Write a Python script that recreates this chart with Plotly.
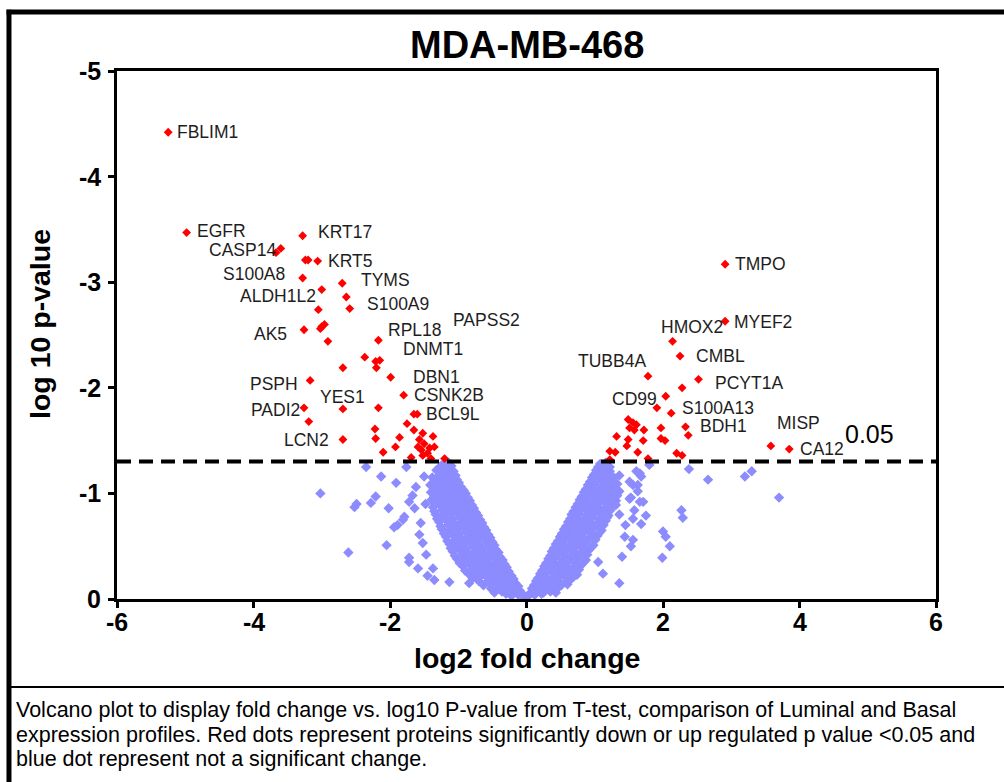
import numpy as np
import plotly.graph_objects as go

# ---- significant proteins (p < 0.05), down-regulated side ----
down_names = ["FBLIM1", "EGFR", "", "CASP14", "KRT17", "", "", "KRT5", "S100A8", "TYMS",
              "ALDH1L2", "", "S100A9", "", "AK5", "", "", "", "", "RPL18", "", "", "DNMT1", "",
              "", "DBN1", "PSPH", "CSNK2B", "", "BCL9L", "PADI2", "YES1", "", "", "", "", "",
              "", "LCN2", "", "", "", "",
              "", "", "", "", "", "", "", "", "", "", "", ""]
down_x = [-5.25, -4.98, -3.67, -3.60, -3.28, -3.24, -3.20, -3.06, -3.28, -2.70,
          -3.00, -2.64, -2.59, -3.05, -3.26, -3.02, -2.96, -3.00, -2.91, -2.17, -2.37, -2.21, -2.15, -2.20,
          -2.69, -1.99, -3.17, -1.80, -1.65, -1.60, -3.26, -2.69, -2.17, -3.19, -1.75, -1.65, -2.22,
          -2.21, -2.69, -1.86, -1.92, -2.10, -1.69,
          -1.52, -1.37, -1.57, -1.50, -1.59, -1.54, -1.42, -1.35, -1.45, -1.40, -1.52, -1.20]
down_y = [-4.42, -3.47, -3.28, -3.32, -3.44, -3.21, -3.21, -3.20, -3.04, -2.99,
          -2.93, -2.86, -2.75, -2.74, -2.55, -2.56, -2.60, -2.58, -2.44, -2.45, -2.29, -2.25, -2.26, -2.19,
          -2.19, -2.10, -2.07, -1.93, -1.75, -1.75, -1.81, -1.80, -1.81, -1.68, -1.66, -1.60, -1.61,
          -1.52, -1.51, -1.53, -1.44, -1.39, -1.34,
          -1.57, -1.54, -1.51, -1.47, -1.44, -1.41, -1.43, -1.44, -1.38, -1.33, -1.36, -1.33]

# ---- significant proteins (p < 0.05), up-regulated side ----
up_names = ["TMPO", "MYEF2", "HMOX2", "CMBL", "TUBB4A", "PCYT1A", "", "", "CD99", "S100A13",
            "BDH1", "", "", "", "", "MISP", "CA12",
            "", "", "", "", "", "", "", "", "", "", "", "", "", "", "", "", ""]
up_x = [2.91, 2.91, 2.14, 2.25, 1.78, 2.52, 2.28, 2.04, 1.91, 2.12,
        2.33, 2.37, 1.97, 1.97, 2.03, 3.58, 3.85,
        1.49, 1.56, 1.61, 1.51, 1.58, 1.72, 1.71, 1.49, 1.32, 1.47, 1.22, 1.30, 1.63, 1.78, 1.22, 2.20, 2.28]
up_y = [-3.17, -2.63, -2.44, -2.30, -2.11, -2.08, -2.00, -1.92, -1.81, -1.76,
        -1.63, -1.55, -1.62, -1.52, -1.50, -1.45, -1.42,
        -1.70, -1.67, -1.65, -1.62, -1.60, -1.60, -1.50, -1.51, -1.54, -1.45, -1.40, -1.39, -1.39, -1.33, -1.32, -1.38, -1.36]

# ---- non-significant proteins: left arm of the volcano ----
ns_left_x = [-0.22, -0.12, -0.04, -0.30,
             -0.52, -0.41, -0.30, -0.19, -0.10,
             -0.70, -0.58, -0.47, -0.36, -0.26, -0.16,
             -0.85, -0.74, -0.62, -0.52, -0.41, -0.31, -0.22,
             -0.93, -0.82, -0.71, -0.60, -0.49, -0.38, -0.29,
             -1.02, -0.90, -0.79, -0.68, -0.57, -0.46, -0.35,
             -1.08, -0.97, -0.86, -0.75, -0.64, -0.52, -0.41,
             -1.13, -1.02, -0.91, -0.80, -0.69, -0.58, -0.47,
             -1.18, -1.07, -0.96, -0.85, -0.74, -0.63, -0.53,
             -1.24, -1.12, -1.01, -0.90, -0.79, -0.69, -0.59,
             -1.28, -1.17, -1.06, -0.95, -0.85, -0.75, -0.65,
             -1.33, -1.22, -1.11, -1.00, -0.90, -0.80, -0.71,
             -1.37, -1.26, -1.15, -1.05, -0.96, -0.86, -0.77,
             -1.39, -1.29, -1.19, -1.10, -1.01, -0.91, -0.83,
             -1.40, -1.30, -1.21, -1.12, -1.04, -0.96, -0.89,
             -1.41, -1.32, -1.23, -1.14, -1.05, -0.96,
             -1.38, -1.29, -1.20, -1.11, -1.02,
             -1.32, -1.23, -1.15, -1.07,
             -1.22, -1.14,
             -0.47, -0.36, -0.25, -0.15, -0.06,
             -0.63, -0.52, -0.41, -0.31, -0.21, -0.12,
             -0.79, -0.68, -0.57, -0.46, -0.36, -0.27, -0.19,
             -0.90, -0.79, -0.68, -0.57, -0.46, -0.36, -0.26,
             -0.98, -0.87, -0.76, -0.65, -0.54, -0.43, -0.32,
             -1.05, -0.94, -0.83, -0.72, -0.61, -0.50, -0.39,
             -1.11, -1.00, -0.89, -0.78, -0.67, -0.56, -0.45,
             -1.16, -1.05, -0.94, -0.83, -0.72, -0.61, -0.50,
             -1.21, -1.10, -0.99, -0.88, -0.77, -0.66, -0.56,
             -1.26, -1.15, -1.04, -0.93, -0.83, -0.73, -0.62,
             -1.31, -1.20, -1.09, -0.98, -0.88, -0.78, -0.68,
             -1.35, -1.24, -1.14, -1.03, -0.93, -0.83, -0.74,
             -1.34, -1.24, -1.15, -1.06, -0.96, -0.87, -0.80,
             -1.35, -1.26, -1.17, -1.08, -1.00, -0.93, -0.86,
             -1.36, -1.27, -1.18, -1.09, -1.00, -0.92,
             -1.35, -1.25, -1.16, -1.07, -0.99,
             -1.27, -1.18, -1.10, -1.04,
             -1.27, -1.18, -1.10]
ns_left_y = [-0.03, -0.04, -0.02, -0.05,
             -0.10, -0.11, -0.09, -0.10, -0.08,
             -0.17, -0.16, -0.18, -0.17, -0.16, -0.15,
             -0.24, -0.23, -0.25, -0.24, -0.23, -0.25, -0.22,
             -0.31, -0.32, -0.30, -0.31, -0.32, -0.30, -0.30,
             -0.38, -0.37, -0.39, -0.38, -0.37, -0.39, -0.37,
             -0.45, -0.46, -0.44, -0.45, -0.46, -0.44, -0.44,
             -0.52, -0.51, -0.53, -0.52, -0.51, -0.53, -0.51,
             -0.59, -0.60, -0.58, -0.59, -0.60, -0.58, -0.58,
             -0.66, -0.65, -0.67, -0.66, -0.65, -0.67, -0.65,
             -0.73, -0.74, -0.72, -0.73, -0.74, -0.72, -0.72,
             -0.80, -0.79, -0.81, -0.80, -0.79, -0.81, -0.79,
             -0.87, -0.88, -0.86, -0.87, -0.88, -0.86, -0.86,
             -0.94, -0.93, -0.95, -0.94, -0.93, -0.95, -0.93,
             -1.01, -1.02, -1.00, -1.01, -1.02, -1.00, -1.00,
             -1.08, -1.07, -1.09, -1.08, -1.07, -1.06,
             -1.15, -1.16, -1.14, -1.15, -1.13,
             -1.22, -1.21, -1.23, -1.21,
             -1.28, -1.29,
             -0.06, -0.07, -0.06, -0.07, -0.05,
             -0.13, -0.14, -0.13, -0.14, -0.13, -0.12,
             -0.20, -0.21, -0.20, -0.21, -0.20, -0.21, -0.19,
             -0.27, -0.28, -0.27, -0.28, -0.27, -0.28, -0.26,
             -0.34, -0.35, -0.34, -0.35, -0.34, -0.35, -0.33,
             -0.41, -0.42, -0.41, -0.42, -0.41, -0.42, -0.40,
             -0.48, -0.49, -0.48, -0.49, -0.48, -0.49, -0.47,
             -0.55, -0.56, -0.55, -0.56, -0.55, -0.56, -0.54,
             -0.62, -0.63, -0.62, -0.63, -0.62, -0.63, -0.61,
             -0.69, -0.70, -0.69, -0.70, -0.69, -0.70, -0.68,
             -0.76, -0.77, -0.76, -0.77, -0.76, -0.77, -0.75,
             -0.83, -0.84, -0.83, -0.84, -0.83, -0.84, -0.82,
             -0.90, -0.91, -0.90, -0.91, -0.90, -0.91, -0.89,
             -0.97, -0.98, -0.97, -0.98, -0.97, -0.98, -0.96,
             -1.04, -1.05, -1.04, -1.05, -1.04, -1.03,
             -1.11, -1.12, -1.11, -1.12, -1.10,
             -1.18, -1.19, -1.18, -1.17,
             -1.25, -1.25, -1.26]

# ---- non-significant proteins: right arm of the volcano ----
ns_right_x = [0.03, 0.12, 0.22,
              0.08, 0.18, 0.28, 0.38, 0.47,
              0.14, 0.24, 0.35, 0.46, 0.57, 0.64,
              0.20, 0.30, 0.41, 0.52, 0.63, 0.74,
              0.26, 0.36, 0.47, 0.58, 0.69, 0.80,
              0.32, 0.42, 0.53, 0.64, 0.75, 0.87,
              0.37, 0.47, 0.58, 0.69, 0.80, 0.91,
              0.43, 0.53, 0.64, 0.75, 0.86, 0.98,
              0.49, 0.59, 0.70, 0.81, 0.92, 1.04,
              0.55, 0.65, 0.76, 0.87, 0.98, 1.10,
              0.61, 0.71, 0.82, 0.93, 1.04, 1.16,
              0.66, 0.76, 0.87, 0.98, 1.09, 1.20,
              0.72, 0.82, 0.93, 1.04, 1.15, 1.26,
              0.78, 0.88, 0.99, 1.10, 1.21, 1.31,
              0.84, 0.94, 1.05, 1.16, 1.27, 1.36,
              0.90, 1.00, 1.11, 1.22, 1.33,
              0.96, 1.06, 1.17, 1.28,
              1.02, 1.12, 1.22,
              1.08, 1.16,
              0.06, 0.15, 0.25, 0.35, 0.43,
              0.11, 0.21, 0.31, 0.41, 0.51, 0.60,
              0.17, 0.27, 0.38, 0.49, 0.60, 0.69,
              0.23, 0.33, 0.44, 0.55, 0.66, 0.77,
              0.29, 0.39, 0.50, 0.61, 0.72, 0.84,
              0.35, 0.45, 0.56, 0.67, 0.78, 0.89,
              0.40, 0.50, 0.61, 0.72, 0.83, 0.95,
              0.46, 0.56, 0.67, 0.78, 0.89, 1.01,
              0.52, 0.62, 0.73, 0.84, 0.95, 1.07,
              0.58, 0.68, 0.79, 0.90, 1.01, 1.13,
              0.64, 0.74, 0.85, 0.96, 1.07, 1.18,
              0.69, 0.79, 0.90, 1.01, 1.12, 1.23,
              0.75, 0.85, 0.96, 1.07, 1.18, 1.29,
              0.81, 0.91, 1.02, 1.13, 1.24, 1.33,
              0.87, 0.97, 1.08, 1.19, 1.30,
              0.93, 1.03, 1.14, 1.25,
              0.99, 1.09, 1.20,
              1.05, 1.14, 1.22]
ns_right_y = [-0.03, -0.04, -0.05,
              -0.10, -0.11, -0.09, -0.10, -0.11,
              -0.17, -0.16, -0.18, -0.17, -0.16, -0.18,
              -0.24, -0.25, -0.23, -0.24, -0.25, -0.23,
              -0.31, -0.30, -0.32, -0.31, -0.30, -0.32,
              -0.38, -0.39, -0.37, -0.38, -0.39, -0.37,
              -0.45, -0.44, -0.46, -0.45, -0.44, -0.46,
              -0.52, -0.53, -0.51, -0.52, -0.53, -0.51,
              -0.59, -0.58, -0.60, -0.59, -0.58, -0.60,
              -0.66, -0.67, -0.65, -0.66, -0.67, -0.65,
              -0.73, -0.72, -0.74, -0.73, -0.72, -0.74,
              -0.80, -0.81, -0.79, -0.80, -0.81, -0.79,
              -0.87, -0.86, -0.88, -0.87, -0.86, -0.88,
              -0.94, -0.95, -0.93, -0.94, -0.95, -0.93,
              -1.01, -1.00, -1.02, -1.01, -1.00, -1.02,
              -1.08, -1.09, -1.07, -1.08, -1.09,
              -1.15, -1.14, -1.16, -1.15,
              -1.22, -1.23, -1.21,
              -1.28, -1.29,
              -0.06, -0.07, -0.06, -0.07, -0.06,
              -0.13, -0.14, -0.13, -0.14, -0.13, -0.14,
              -0.20, -0.21, -0.20, -0.21, -0.20, -0.21,
              -0.27, -0.28, -0.27, -0.28, -0.27, -0.28,
              -0.34, -0.35, -0.34, -0.35, -0.34, -0.35,
              -0.41, -0.42, -0.41, -0.42, -0.41, -0.42,
              -0.48, -0.49, -0.48, -0.49, -0.48, -0.49,
              -0.55, -0.56, -0.55, -0.56, -0.55, -0.56,
              -0.62, -0.63, -0.62, -0.63, -0.62, -0.63,
              -0.69, -0.70, -0.69, -0.70, -0.69, -0.70,
              -0.76, -0.77, -0.76, -0.77, -0.76, -0.77,
              -0.83, -0.84, -0.83, -0.84, -0.83, -0.84,
              -0.90, -0.91, -0.90, -0.91, -0.90, -0.91,
              -0.97, -0.98, -0.97, -0.98, -0.97, -0.98,
              -1.04, -1.05, -1.04, -1.05, -1.04,
              -1.11, -1.12, -1.11, -1.12,
              -1.18, -1.19, -1.18,
              -1.25, -1.26, -1.25]

# ---- non-significant proteins scattered away from the arms ----
ns_out_x = [-3.02, -2.61, -2.35, -2.13, -1.91, -1.76, -2.52, -2.49, -2.21, -2.28,
            -2.02, -1.89, -1.79, -2.05, -1.72, -1.59, -1.35, -1.13, -1.57, -1.52,
            -1.67, -1.62, -1.64, -1.37, -1.72, -1.47, -1.94, -1.81, -1.72, -0.84,
            -1.45, -1.55, -1.50, -1.48,
            1.80, 2.38, 2.66, 3.20, 3.30, 3.70, 1.66, 1.68, 1.56, 1.63,
            1.53, 1.66, 1.58, 1.75, 1.56, 1.68, 2.27, 2.29, 2.00, 2.04,
            1.56, 1.53, 2.10, 1.99, 1.12, 1.36, 1.44, 1.36, 1.31, 1.22,
            1.51, 1.63, 1.51, 1.36, 1.61, 1.71, 1.45, 1.40, 1.05]
ns_out_y = [-1.00, -0.44, -1.25, -1.16, -1.10, -1.25, -0.87, -0.90, -0.97, -0.91,
            -0.86, -0.70, -0.78, -0.51, -0.35, -0.29, -0.18, -0.16, -0.61, -0.53,
            -0.98, -1.06, -0.86, -0.29, -0.92, -0.42, -0.68, -0.75, -0.39, -0.15,
            -0.22, -0.72, -1.16, -0.90,
            -1.27, -1.23, -1.13, -1.16, -1.21, -0.96, -1.19, -1.16, -1.08, -1.08,
            -0.96, -0.92, -0.84, -0.79, -0.76, -0.71, -0.84, -0.77, -0.64, -0.59,
            -0.56, -0.50, -0.50, -0.39, -0.24, -0.15, -0.59, -0.80, -0.89, -1.02,
            -0.95, -1.02, -1.11, -1.17, -1.21, -0.92, -0.70, -0.40, -0.35]

p_cutoff = 0.05
x_ticks = [-6, -4, -2, 0, 2, 4, 6]
y_ticks = [0, -1, -2, -3, -4, -5]

# gene label placement: (anchor, x offset px, y offset px)
label_place = {
    "FBLIM1": ("left", 7, 0), "EGFR": ("left", 8, 2), "CASP14": ("right", -3, -2),
    "KRT17": ("left", 13, 4), "KRT5": ("left", 8, 0), "S100A8": ("right", -16, 4),
    "TYMS": ("left", 17, 3), "ALDH1L2": ("right", -4, -6), "S100A9": ("left", 15, 5),
    "AK5": ("right", -15, -4), "RPL18": ("left", 8, 10), "DNMT1": ("left", 21, 11),
    "DBN1": ("left", 20, 0), "CSNK2B": ("left", 8, 0), "BCL9L": ("left", 7, 0),
    "PSPH": ("right", -10, -4), "YES1": ("center", 0, 12), "PADI2": ("right", -2, -2),
    "LCN2": ("right", -12, 0),
    "TMPO": ("left", 8, 0), "MYEF2": ("left", 7, -1), "HMOX2": ("center", 19, 14),
    "CMBL": ("left", 14, 0), "TUBB4A": ("right", 0, 15), "PCYT1A": ("left", 15, -4),
    "CD99": ("right", 2, 9), "S100A13": ("left", 9, 5), "BDH1": ("left", 12, 1),
    "MISP": ("left", 4, 23), "CA12": ("left", 9, 0),
}

FONT = "Liberation Sans, Arial, Helvetica, sans-serif"
BLUE = "#8C8CFF"
RED = "#FF0000"
LABEL_COLOR = "#1e1e1e"

fig = go.Figure()

fig.add_trace(go.Scatter(
    x=ns_left_x + ns_right_x + ns_out_x,
    y=ns_left_y + ns_right_y + ns_out_y,
    mode="markers", cliponaxis=False, hoverinfo="skip",
    marker=dict(symbol="diamond", size=8, color=BLUE, line=dict(width=0)),
))
fig.add_trace(go.Scatter(
    x=down_x + up_x, y=down_y + up_y,
    text=down_names + up_names,
    mode="markers", cliponaxis=False,
    marker=dict(symbol="diamond", size=6.8, color=RED, line=dict(width=0)),
))

threshold = np.log10(p_cutoff)
fig.add_shape(type="line", xref="x", yref="y", x0=-6, x1=6, y0=threshold, y1=threshold,
              line=dict(color="black", width=4, dash="14px,8px"))

annotations = []
for names, xs, ys in ((down_names, down_x, down_y), (up_names, up_x, up_y)):
    for name, gx, gy in zip(names, xs, ys):
        if not name:
            continue
        anchor, dx, dy = label_place[name]
        annotations.append(dict(
            x=gx, y=gy, xref="x", yref="y", text=name, showarrow=False,
            xanchor=anchor, yanchor="middle", xshift=dx, yshift=dy,
            font=dict(family=FONT, size=17.5, color=LABEL_COLOR)))

# label without an obviously adjacent point
annotations.append(dict(x=-1.10, y=-2.64, xref="x", yref="y", text="PAPSS2", showarrow=False,
                        xanchor="left", yanchor="middle",
                        font=dict(family=FONT, size=17.5, color=LABEL_COLOR)))

annotations.append(dict(x=6, y=threshold, xref="x", yref="y", text=str(p_cutoff),
                        showarrow=False, xanchor="right", yanchor="middle",
                        xshift=-40, yshift=28,
                        font=dict(family=FONT, size=25, color="black")))

# tick labels (plain hyphen minus signs)
tick_font = dict(family=FONT, size=25, color="black", weight="bold")
for t in x_ticks:
    annotations.append(dict(x=t, y=0, xref="x", yref="paper", text=str(t), showarrow=False,
                            xanchor="center", yanchor="middle", yshift=-23, font=tick_font))
for t in y_ticks:
    annotations.append(dict(x=0, y=t, xref="paper", yref="y", text=str(t), showarrow=False,
                            xanchor="right", yanchor="middle", xshift=-14, font=tick_font))

annotations.append(dict(x=0.5, y=1, xref="paper", yref="paper", text="<b>MDA-MB-468</b>",
                        showarrow=False, xanchor="center", yanchor="middle", yshift=26,
                        font=dict(family=FONT, size=38, color="black")))
annotations.append(dict(x=0.5, y=0, xref="paper", yref="paper", text="<b>log2 fold change</b>",
                        showarrow=False, xanchor="center", yanchor="middle", yshift=-59,
                        font=dict(family=FONT, size=28.5, color="black")))
annotations.append(dict(x=0, y=0.5, xref="paper", yref="paper", text="<b>log 10 p-value</b>",
                        showarrow=False, xanchor="center", yanchor="middle", xshift=-77, yshift=11,
                        textangle=-90, font=dict(family=FONT, size=28.5, color="black")))

caption_lines = [
    "Volcano plot to display fold change vs. log10 P-value from T-test, comparison of Luminal and Basal",
    "expression profiles. Red dots represent proteins significantly down or up regulated p value &lt;0.05 and",
    "blue dot represent not a significant change.",
]
for i, line in enumerate(caption_lines):
    annotations.append(dict(x=-0.1258, y=-0.1686, xref="paper", yref="paper", text=line,
                            showarrow=False, xanchor="left", yanchor="middle", align="left",
                            yshift=-(22 + 24.5 * i),
                            font=dict(family=FONT, size=21.5, color="black")))

# figure border and caption divider
shapes = [
    dict(type="line", xref="paper", yref="paper", x0=-0.1349, x1=1.2, y0=1.1117, y1=1.1117,
         line=dict(color="black", width=5)),
    dict(type="line", xref="paper", yref="paper", x0=-0.1319, x1=-0.1319, y0=1.116, y1=-0.5,
         line=dict(color="black", width=5)),
    dict(type="line", xref="paper", yref="paper", x0=-0.1319, x1=1.2, y0=-0.1667, y1=-0.1667,
         line=dict(color="black", width=2)),
]
for s in shapes:
    fig.add_shape(**s)

axis_common = dict(
    showgrid=False, zeroline=False, showline=True, linecolor="black", linewidth=3,
    mirror=True, ticks="outside", ticklen=6, tickwidth=3, tickcolor="black",
    showticklabels=False,
)

fig.update_layout(
    width=1004, height=782,
    margin=dict(l=117, r=68, t=71, b=183),
    paper_bgcolor="white", plot_bgcolor="white",
    showlegend=False,
    xaxis=dict(range=[-6, 6], tickvals=x_ticks, **axis_common),
    yaxis=dict(range=[0, -5], tickvals=y_ticks, **axis_common),
    annotations=annotations,
)

fig.write_html("out.html")
